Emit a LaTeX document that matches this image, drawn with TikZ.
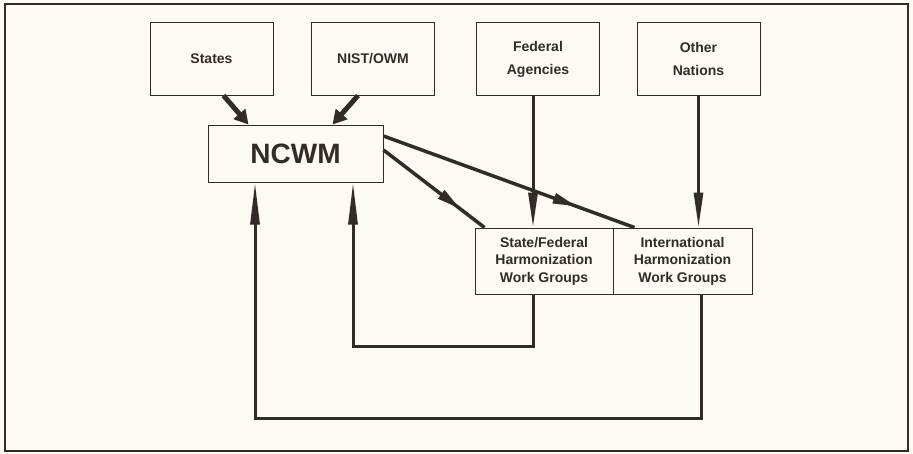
\documentclass[tikz,border=0pt]{standalone}
\usepackage{fontspec}
\setmainfont{Liberation Sans}
\usepackage{xcolor}
\usepackage{tikz}
\usetikzlibrary{arrows.meta,decorations.markings}
\definecolor{paper}{RGB}{252,250,242}
\definecolor{ink}{RGB}{52,42,42}

\begin{document}
\begin{tikzpicture}[x=1pt,y=-1pt,
    box/.style={draw=ink,line width=1pt,fill=paper,align=center,text=ink,inner sep=0pt},
    topbox/.style={box,minimum width=123pt,minimum height=73pt,font=\bfseries\fontsize{14}{23}\selectfont},
    wgbox/.style={box,minimum width=139pt,minimum height=66pt,font=\bfseries\fontsize{14}{17.5}\selectfont},
    fat/.style={draw=ink,line width=5pt,-{Triangle[length=14pt,width=15pt]}},
    down/.style={draw=ink,line width=3pt,-{Triangle[length=35pt,width=9pt]}},
    back/.style={draw=ink,line width=3pt,-{Triangle[length=42pt,width=9pt]}},
    midarrow/.style={draw=ink,line width=3.5pt,postaction={decorate},
      decoration={markings,mark=at position #1 with {\arrow{Triangle[length=24pt,width=10pt]}}}}]
  % Paper and frame
  \fill[paper] (0,0) rectangle (913,453);
  \draw[ink,line width=1.5pt] (5,4) rectangle (908,451);
  % Sources
  \node[topbox] (states) at (211.5,58.5) {States};
  \node[topbox] (nist) at (373,58.5) {NIST/OWM};
  \node[topbox] (federal) at (538,59) {Federal\\Agencies};
  \node[topbox] (nations) at (698.5,59) {Other\\Nations};
  % Conference
  \node[box,minimum width=175pt,minimum height=57pt,font=\bfseries\fontsize{28}{34}\selectfont] (ncwm) at (295.5,153.5) {NCWM};
  % Work groups
  \node[wgbox,minimum width=138pt] (sfwg) at (544,261) {State/Federal\\Harmonization\\Work Groups};
  \node[wgbox] (iwg) at (682.5,261) {International\\Harmonization\\Work Groups};
  % Inputs to NCWM
  \draw[fat] ([xshift=12pt]states.south) -- ([xshift=-47pt]ncwm.north);
  \draw[fat] ([xshift=-15pt]nist.south) -- ([xshift=37pt]ncwm.north);
  % Inputs to work groups
  \draw[down] ([xshift=-5pt]federal.south) -- ([xshift=-5pt]federal.south |- sfwg.north);
  \draw[down] (nations.south) -- (nations.south |- iwg.north);
  \draw[midarrow=0.76] ([yshift=3.5pt]ncwm.east) -- ([xshift=10pt]sfwg.north west);
  \draw[midarrow=0.77] ([yshift=17.5pt]ncwm.east) -- ([xshift=22pt]iwg.north west);
  % Feedback to NCWM
  \draw[back] ([xshift=-11pt]sfwg.south) -- ++(0,52) -| ([xshift=57.5pt]ncwm.south);
  \draw[back] ([xshift=18.5pt]iwg.south) -- ++(0,124) -| ([xshift=-40.5pt]ncwm.south);
\end{tikzpicture}
\end{document}
